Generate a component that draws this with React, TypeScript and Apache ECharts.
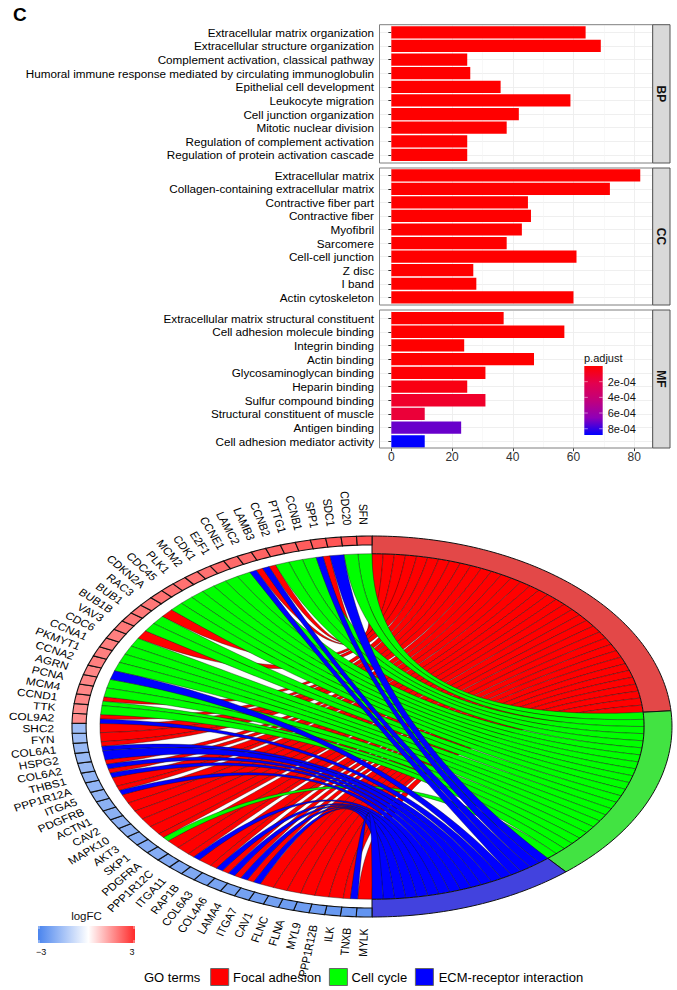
import React, { useEffect, useRef } from "react";
import * as echarts from "echarts";

const bpTerms = ["Extracellular matrix organization","Extracellular structure organization","Complement activation, classical pathway","Humoral immune response mediated by circulating immunoglobulin","Epithelial cell development","Leukocyte migration","Cell junction organization","Mitotic nuclear division","Regulation of complement activation","Regulation of protein activation cascade"];
const bpCounts = [64,69,25,26,36,59,42,38,25,25];
const bpP = [0,0,0,0,0,0,0,0,0,0];
const ccTerms = ["Extracellular matrix","Collagen-containing extracellular matrix","Contractive fiber part","Contractive fiber","Myofibril","Sarcomere","Cell-cell junction","Z disc","I band","Actin cytoskeleton"];
const ccCounts = [82,72,45,46,43,38,61,27,28,60];
const ccP = [0,0,0,0,0,0,0,0,0,0];
const mfTerms = ["Extracellular matrix structural constituent","Cell adhesion molecule binding","Integrin binding","Actin binding","Glycosaminoglycan binding","Heparin binding","Sulfur compound binding","Structural constituent of muscle","Antigen binding","Cell adhesion mediator activity"];
const mfCounts = [37,57,24,47,31,25,31,11,23,11];
const mfP = [0,0,0,0,0.1e-4,0.5e-4,1.2e-4,1.6e-4,7.2e-4,8.8e-4];
const xTicks = [0,20,40,60,80];
const xMinor = [10,30,50,70];
const pTicks = [2e-4,4e-4,6e-4,8e-4];
const pTickLabels = ["2e-04","4e-04","6e-04","8e-04"];
const pMax = 8.8e-4;
const pStops = ["#FF0000","#E3004F","#C1007C","#8F00B8","#0000FF"];

// genes, clockwise from the bottom of the ring
const genes = ["MYLK","TNXB","ILK","PPP1R12B","MYL9","FLNA","FLNC","CAV1","ITGA7","LAMA4","COL4A6","COL6A3","RAP1B","ITGA11","PPP1R12C","PDGFRA","SKP1","AKT3","MAPK10","CAV2","ACTN1","PDGFRB","ITGA5","PPP1R12A","THBS1","COL6A2","HSPG2","COL6A1","FYN","SHC2","COL9A2","TTK","CCND1","MCM4","PCNA","AGRN","CCNA2","PKMYT1","CCNA1","CDC6","VAV3","BUB1B","BUB1","RAC3","CDKN2A","CDC45","PLK1","MCM2","CDK1","E2F1","CCNE1","LAMC2","LAMB3","CCNB2","PTTG1","CCNB1","SPP1","SDC1","CDC20","SFN"];
const logFC = [-2.6,-2.5,-2.5,-2.4,-2.4,-2.4,-2.3,-2.3,-2.3,-2.2,-2.2,-2.2,-2.1,-2.1,-2.1,-2.0,-2.0,-2.0,-1.9,-1.9,-1.9,-1.9,-1.8,-1.8,-1.8,-1.7,-1.7,-1.7,-1.6,-1.6,1.6,1.6,1.7,1.7,1.7,1.7,1.8,1.8,1.8,1.8,1.9,1.9,1.9,1.9,2.0,2.0,2.0,2.0,2.0,2.1,2.1,2.1,2.2,2.2,2.2,2.3,2.3,2.4,2.4,2.5];
const focalGenes = ["MYLK","TNXB","ILK","PPP1R12B","MYL9","FLNA","FLNC","CAV1","ITGA7","LAMA4","COL4A6","COL6A3","RAP1B","ITGA11","PPP1R12C","PDGFRA","SKP1","AKT3","MAPK10","CAV2","ACTN1","PDGFRB","ITGA5","PPP1R12A","THBS1","COL6A2","COL6A1","FYN","SHC2","COL9A2","CCND1","VAV3","RAC3","LAMC2","LAMB3","SPP1"];
const cycleGenes = ["SKP1","TTK","CCND1","MCM4","PCNA","CCNA2","PKMYT1","CCNA1","CDC6","BUB1B","BUB1","CDKN2A","CDC45","PLK1","MCM2","CDK1","E2F1","CCNE1","CCNB2","PTTG1","CCNB1","CDC20","SFN"];
const ecmGenes = ["TNXB","ITGA7","LAMA4","COL4A6","COL6A3","ITGA11","ITGA5","THBS1","COL6A2","HSPG2","COL6A1","COL9A2","AGRN","LAMC2","LAMB3","SPP1","SDC1"];
const goTerms = ["Focal adhesion","Cell cycle","ECM-receptor interaction"];
const ribbonColors = ["#FF0000","#00FF00","#0000FF"];
const arcColors = ["#E34848","#42E342","#4242DE"];

const FONT = '"Liberation Sans", Arial, sans-serif';
const R_RIBBON = 0.907, R_CELL = 0.953, R_LABEL = 1.06;

const pColor = (p: number) => echarts.color.lerp(Math.min(1, p / pMax), pStops) as string;
const lfcColor = (v: number) => v < 0
  ? echarts.color.lerp(-v / 3, ["#FFFFFF", "#4A84EE"]) as string
  : echarts.color.lerp(v / 3, ["#FFFFFF", "#FF2A2A"]) as string;

// theta: degrees clockwise from the bottom, along the left half
const geneEdge = (i: number) => (i <= 30 ? i * 3.033 : 91 + (i - 30) * 2.967);
const termMemb = [focalGenes, cycleGenes, ecmGenes];
const totalPairs = termMemb.reduce((s, l) => s + l.length, 0);

// one row per ribbon: gene edges (phi), term edges (phi), term index
function buildRibbons() {
  const stripOf: Record<string, [number, number]> = {};
  genes.forEach((g, i) => {
    const order = [2, 1, 0].filter((t) => termMemb[t].includes(g));
    const a = geneEdge(i), b = geneEdge(i + 1), w = (b - a) / order.length;
    order.forEach((t, k) => { stripOf[g + "|" + t] = [180 + a + k * w, 180 + a + (k + 1) * w]; });
  });
  const rows: number[][] = [];
  let cursor = 0;
  const step = 180 / totalPairs;
  termMemb.forEach((list, t) => {
    const sorted = [...list].sort((p, q) => genes.indexOf(q) - genes.indexOf(p));
    sorted.forEach((g) => {
      const s = stripOf[g + "|" + t];
      rows.push([s[0], s[1], cursor, cursor + step, t]);
      cursor += step;
    });
  });
  return rows;
}
function buildTermArcs() {
  let cursor = 0;
  return termMemb.map((l, t) => {
    const w = (l.length * 180) / totalPairs;
    const row = [cursor, cursor + w, t];
    cursor += w;
    return row;
  });
}

const pt = (phi: number, r: number): [number, number] => {
  const a = (phi * Math.PI) / 180;
  return [r * Math.sin(a), r * Math.cos(a)];
};
const bez = (p: [number, number], q: [number, number], t: number): [number, number] => {
  const u = (1 - t) * (1 - t), v = t * t;
  return [u * p[0] + v * q[0], u * p[1] + v * q[1]];
};

const renderRibbon = (_: any, api: any) => {
  const g1 = api.value(0), g2 = api.value(1), t1 = api.value(2), t2 = api.value(3), ti = api.value(4);
  const points: number[][] = [];
  const A0 = pt(g1, R_RIBBON), A1 = pt(t2, R_RIBBON), B0 = pt(t1, R_RIBBON), B1 = pt(g2, R_RIBBON);
  for (let k = 0; k <= 40; k++) points.push(api.coord(bez(A0, A1, k / 40)));
  for (let k = 0; k <= 40; k++) points.push(api.coord(bez(B0, B1, k / 40)));
  return { type: "polygon", shape: { points }, style: { fill: ribbonColors[ti], stroke: "#111", lineWidth: 0.4 } };
};
const bandPoints = (api: any, a: number, b: number, r0: number, r1: number) => {
  const n = Math.max(2, Math.ceil(b - a));
  const out: number[][] = [];
  for (let k = 0; k <= n; k++) out.push(api.coord(pt(a + ((b - a) * k) / n, r1)));
  for (let k = n; k >= 0; k--) out.push(api.coord(pt(a + ((b - a) * k) / n, r0)));
  return out;
};
const renderArc = (_: any, api: any) => ({
  type: "polygon",
  shape: { points: bandPoints(api, api.value(0), api.value(1), R_RIBBON, 1) },
  style: { fill: arcColors[api.value(2)], stroke: "#111", lineWidth: 1 },
});
const renderCell = (_: any, api: any) => ({
  type: "polygon",
  shape: { points: bandPoints(api, api.value(0), api.value(1), R_CELL, 1) },
  style: { fill: lfcColor(api.value(2)), stroke: "#111", lineWidth: 1.1 },
});
const renderLabel = (params: any, api: any) => {
  const theta = api.value(0);
  const p = api.coord(pt(180 + theta, R_LABEL));
  return {
    type: "group", x: p[0], y: p[1], scaleX: 1.14, scaleY: 1,
    children: [{
      type: "text", rotation: ((90 - theta) * Math.PI) / 180,
      style: { text: genes[params.dataIndex], fontFamily: FONT, fontSize: 10.4, fill: "#000", textAlign: "right", textVerticalAlign: "middle" },
    }],
  };
};

const panels = [
  { name: "BP", top: 24.7, bottom: 163, gridTop: 25.5, gridH: 136.2, terms: bpTerms, counts: bpCounts, ps: bpP },
  { name: "CC", top: 168, bottom: 305, gridTop: 168.5, gridH: 135.6, terms: ccTerms, counts: ccCounts, ps: ccP },
  { name: "MF", top: 310, bottom: 448, gridTop: 311.2, gridH: 137, terms: mfTerms, counts: mfCounts, ps: mfP },
];
const PL = 379.5, PR = 652.7, SR = 670;

function buildOption() {
  const grid: any[] = [], xAxis: any[] = [], yAxis: any[] = [], series: any[] = [], graphic: any[] = [];
  panels.forEach((p, i) => {
    grid.push({ left: PL, width: PR - PL, top: p.gridTop, height: p.gridH });
    const last = i === 2;
    xAxis.push({
      type: "value", gridIndex: i, min: -3.9, max: 86.1, position: "bottom",
      axisLine: { show: false },
      axisTick: { show: last, length: 3, customValues: xTicks, lineStyle: { color: "#333" } },
      axisLabel: { show: last, customValues: xTicks, color: "#333", fontFamily: FONT, fontSize: 12, margin: 3 },
      splitLine: { show: true, lineStyle: { color: "#EDEDED", width: 0.9 } },
    });
    yAxis.push({
      type: "category", gridIndex: i, inverse: true, data: p.terms,
      axisLine: { show: false },
      axisTick: { show: true, length: 3, alignWithLabel: true, lineStyle: { color: "#333" } },
      axisLabel: { color: "#000", fontFamily: FONT, fontSize: 11.7, margin: 5.5, interval: 0 },
      splitLine: { show: true, alignWithLabel: true, lineStyle: { color: "#EDEDED", width: 0.9 } },
    });
    series.push({
      type: "bar", xAxisIndex: i, yAxisIndex: i, barWidth: "90%", silent: true,
      data: p.counts.map((v, k) => ({ value: v, itemStyle: { color: pColor(p.ps[k]) } })),
    });
    graphic.push(
      { type: "rect", z: 10, silent: true, shape: { x: PL, y: p.top, width: PR - PL, height: p.bottom - p.top }, style: { fill: "none", stroke: "#7F7F7F", lineWidth: 1 } },
      { type: "rect", z: 10, silent: true, shape: { x: PR, y: p.top, width: SR - PR, height: p.bottom - p.top }, style: { fill: "#D9D9D9", stroke: "#555", lineWidth: 1 } },
      { type: "text", z: 11, silent: true, x: (PR + SR) / 2, y: (p.top + p.bottom) / 2, rotation: -Math.PI / 2, style: { text: p.name, fontFamily: FONT, fontWeight: "bold", fontSize: 12, fill: "#111", textAlign: "center", textVerticalAlign: "middle" } },
    );
  });

  // minor vertical grid lines
  panels.forEach((p, i) => {
    xAxis.push({
      type: "value", gridIndex: i, min: -3.9, max: 86.1, position: "top",
      axisLine: { show: false }, axisLabel: { show: false },
      axisTick: { show: false, customValues: xMinor },
      splitLine: { show: true, lineStyle: { color: "#F4F4F4", width: 0.6 } },
    });
  });

  // chord plot
  const chordIdx = panels.length;
  grid.push({ left: 72, width: 600, top: 536, height: 381 });
  const cy = 3;
  const cxIndex = xAxis.length;
  xAxis.push({ type: "value", gridIndex: chordIdx, min: -1, max: 1, show: false });
  yAxis.push({ type: "value", gridIndex: chordIdx, min: -1, max: 1, show: false });
  const common = { type: "custom", xAxisIndex: cxIndex, yAxisIndex: cy, silent: true, clip: false, coordinateSystem: "cartesian2d" };
  series.push({ ...common, z: 3, renderItem: renderRibbon, data: buildRibbons() });
  series.push({ ...common, z: 4, renderItem: renderArc, data: buildTermArcs() });
  series.push({ ...common, z: 4, renderItem: renderCell, data: genes.map((_, i) => [180 + geneEdge(i), 180 + geneEdge(i + 1), logFC[i]]) });
  series.push({ ...common, z: 5, renderItem: renderLabel, data: genes.map((_, i) => [(geneEdge(i) + geneEdge(i + 1)) / 2]) });

  // panel letter
  graphic.push({ type: "text", x: 13, y: 5, style: { text: "C", fontFamily: FONT, fontWeight: "bold", fontSize: 19, fill: "#000" } });

  // p.adjust colour bar
  const BX = 584.3, BW = 18.4, BT = 366, BH = 69;
  graphic.push({ type: "text", z: 12, x: 584, y: 358, style: { text: "p.adjust", fontFamily: FONT, fontSize: 11, fill: "#111", textVerticalAlign: "middle" } });
  graphic.push({
    type: "rect", z: 12, shape: { x: BX, y: BT, width: BW, height: BH },
    style: { fill: new echarts.graphic.LinearGradient(0, 0, 0, 1, pStops.map((c, i) => ({ offset: i / (pStops.length - 1), color: c }))) },
  });
  pTicks.forEach((v, i) => {
    const y = BT + (v / pMax) * BH;
    graphic.push({ type: "line", z: 13, shape: { x1: BX, y1: y, x2: BX + 3.5, y2: y }, style: { stroke: "#FFF", lineWidth: 0.5 } });
    graphic.push({ type: "line", z: 13, shape: { x1: BX + BW - 3.5, y1: y, x2: BX + BW, y2: y }, style: { stroke: "#FFF", lineWidth: 0.5 } });
    graphic.push({ type: "text", z: 12, x: 607.7, y, style: { text: pTickLabels[i], fontFamily: FONT, fontSize: 11, fill: "#111", textVerticalAlign: "middle" } });
  });

  // logFC colour bar
  const LX = 38, LW = 97, LT = 926, LH = 17;
  graphic.push({ type: "text", x: LX + LW / 2, y: 916, style: { text: "logFC", fontFamily: FONT, fontSize: 11.5, fill: "#111", textAlign: "center", textVerticalAlign: "middle" } });
  graphic.push({
    type: "rect", shape: { x: LX, y: LT, width: LW, height: LH },
    style: { fill: new echarts.graphic.LinearGradient(0, 0, 1, 0, [
      { offset: 0, color: "#4A84EE" }, { offset: 0.52, color: "#FFFFFF" }, { offset: 1, color: "#FF2A2A" },
    ]) },
  });
  [LX + 1, LX + LW - 1].forEach((x) => {
    graphic.push({ type: "line", shape: { x1: x, y1: LT, x2: x, y2: LT + 3 }, style: { stroke: "#FFF", lineWidth: 0.7 } });
    graphic.push({ type: "line", shape: { x1: x, y1: LT + LH - 3, x2: x, y2: LT + LH }, style: { stroke: "#FFF", lineWidth: 0.7 } });
  });
  graphic.push({ type: "text", x: LX + 3, y: 952, style: { text: "\u22123", fontFamily: FONT, fontSize: 9, fill: "#111", textAlign: "center", textVerticalAlign: "middle" } });
  graphic.push({ type: "text", x: LX + LW - 3, y: 952, style: { text: "3", fontFamily: FONT, fontSize: 9, fill: "#111", textAlign: "center", textVerticalAlign: "middle" } });

  // GO terms legend
  const LEG_Y = 977;
  graphic.push({ type: "text", x: 144, y: LEG_Y, style: { text: "GO terms", fontFamily: FONT, fontSize: 13, fill: "#000", textVerticalAlign: "middle" } });
  const boxes = [210.7, 329.4, 415.4];
  const textX = [233, 351.5, 438.7];
  goTerms.forEach((t, i) => {
    graphic.push({ type: "rect", shape: { x: boxes[i], y: LEG_Y - 8.5, width: 18, height: 17 }, style: { fill: ribbonColors[i], stroke: "#666", lineWidth: 1 } });
    graphic.push({ type: "text", x: textX[i], y: LEG_Y, style: { text: t, fontFamily: FONT, fontSize: 13, fill: "#000", textVerticalAlign: "middle" } });
  });

  return { animation: false, backgroundColor: "#FFFFFF", tooltip: { show: false }, grid, xAxis, yAxis, series, graphic };
}

export default function App() {
  const ref = useRef<HTMLDivElement>(null);
  useEffect(() => {
    const chart = echarts.init(ref.current!, undefined, { renderer: "svg" });
    chart.setOption(buildOption());
    return () => chart.dispose();
  }, []);
  return <div ref={ref} style={{ position: "absolute", left: 0, top: 0, width: 677, height: 990 }} />;
}
